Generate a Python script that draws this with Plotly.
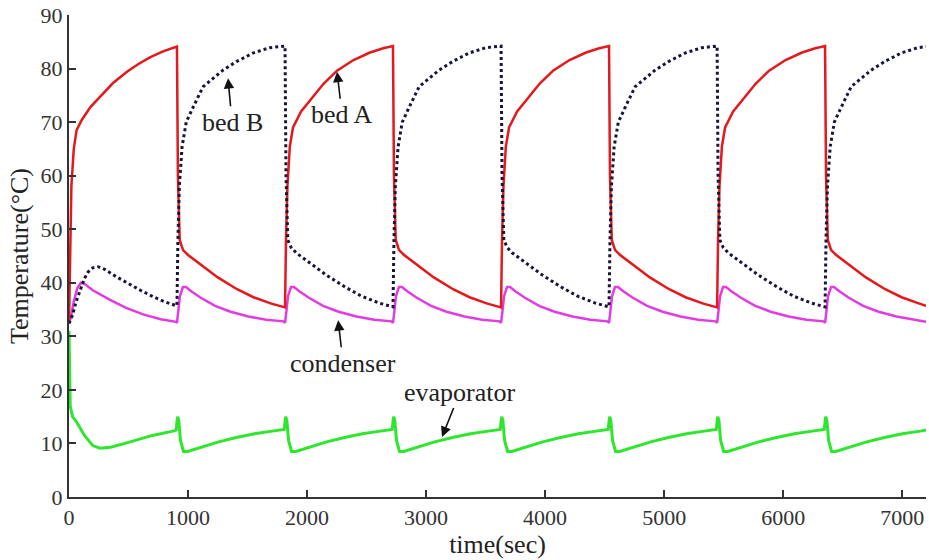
import plotly.graph_objects as go

# ---- data (time in s, temperature in °C) ----
bedA_t = [0, 8, 20, 40, 64, 107, 180, 260, 370, 487, 580, 680, 790, 907,
          915, 930, 958, 1000, 1126, 1250, 1412, 1550, 1700, 1815,
          1823, 1835, 1855, 1882, 1950, 2025, 2140, 2252, 2390, 2529, 2640, 2722,
          2730, 2745, 2773, 2815, 2941, 3065, 3227, 3365, 3515, 3630,
          3638, 3650, 3670, 3697, 3765, 3840, 3955, 4067, 4205, 4344, 4455, 4537,
          4545, 4560, 4588, 4630, 4756, 4880, 5042, 5180, 5330, 5445,
          5453, 5465, 5485, 5512, 5580, 5655, 5770, 5882, 6020, 6159, 6270, 6352,
          6360, 6375, 6403, 6445, 6571, 6695, 6857, 6995, 7145, 7200]
bedA_v = [32.5, 45, 58, 65, 68.5, 70.4, 72.8, 74.7, 77.3, 79.4, 80.8, 82.1, 83.2, 84.1,
          60, 48, 46.1, 45.2, 43, 41, 38.8, 37.3, 36.1, 35.4,
          48, 58, 65.4, 69, 72, 74.1, 77.2, 79.6, 81.6, 83, 83.8, 84.2,
          60, 48, 46.1, 45.2, 43, 41, 38.8, 37.3, 36.1, 35.4,
          48, 58, 65.4, 69, 72, 74.1, 77.2, 79.6, 81.6, 83, 83.8, 84.2,
          60, 48, 46.1, 45.2, 43, 41, 38.8, 37.3, 36.1, 35.4,
          48, 58, 65.4, 69, 72, 74.1, 77.2, 79.6, 81.6, 83, 83.8, 84.2,
          60, 48, 46.1, 45.2, 43, 41, 38.8, 37.3, 36.1, 35.7]

bedB_t = [0, 30, 60, 92, 130, 160, 200, 244, 300, 400, 487, 600, 706, 800, 890, 907,
          915, 927, 950, 985, 1037, 1126, 1294, 1407, 1546, 1687, 1815,
          1823, 1838, 1866, 1908, 2034, 2158, 2320, 2458, 2608, 2722,
          2730, 2742, 2765, 2800, 2852, 2941, 3109, 3222, 3361, 3502, 3630,
          3638, 3653, 3681, 3723, 3849, 3973, 4135, 4273, 4423, 4537,
          4545, 4557, 4580, 4615, 4667, 4756, 4924, 5037, 5176, 5317, 5445,
          5453, 5468, 5496, 5538, 5664, 5788, 5950, 6088, 6238, 6352,
          6360, 6372, 6395, 6430, 6482, 6571, 6739, 6852, 6991, 7132, 7200]
bedB_v = [32.4, 34, 36.5, 38.6, 40.8, 42, 42.8, 43, 42.5, 41.1, 40, 38.6, 37.4, 36.5, 35.8, 35.7,
          48, 58, 65.4, 70, 72.5, 76.6, 79.7, 81.3, 82.9, 83.9, 84.2,
          60, 48, 46.6, 45.6, 43.6, 41.5, 39.2, 37.5, 36.2, 35.5,
          48, 58, 65.4, 70, 72.5, 76.6, 79.7, 81.3, 82.9, 83.9, 84.2,
          60, 48, 46.6, 45.6, 43.6, 41.5, 39.2, 37.5, 36.2, 35.5,
          48, 58, 65.4, 70, 72.5, 76.6, 79.7, 81.3, 82.9, 83.9, 84.2,
          60, 48, 46.6, 45.6, 43.6, 41.5, 39.2, 37.5, 36.2, 35.5,
          48, 58, 65.4, 70, 72.5, 76.6, 79.7, 81.3, 82.9, 83.9, 84.1]

cond_t = [0, 15, 40, 70, 100, 130, 200, 345, 480, 622, 770, 900, 907,
          915, 932, 957, 982, 1027, 1107, 1227, 1357, 1507, 1657, 1802, 1815,
          1823, 1840, 1865, 1890, 1935, 2015, 2135, 2265, 2415, 2565, 2710, 2722,
          2730, 2747, 2772, 2797, 2842, 2922, 3042, 3172, 3322, 3472, 3617, 3630,
          3638, 3655, 3680, 3705, 3750, 3830, 3950, 4080, 4230, 4380, 4525, 4537,
          4545, 4562, 4587, 4612, 4657, 4737, 4857, 4987, 5137, 5287, 5432, 5445,
          5453, 5470, 5495, 5520, 5565, 5645, 5765, 5895, 6045, 6195, 6340, 6352,
          6360, 6377, 6402, 6427, 6472, 6552, 6672, 6802, 6952, 7102, 7200]
cond_v = [32.5, 33.5, 36.5, 39, 40, 39.8, 38.6, 36.8, 35.3, 34.1, 33.2, 32.7, 32.5,
          34, 37.5, 39.2, 39.2, 38.4, 37.2, 35.7, 34.6, 33.7, 33.1, 32.8, 32.5,
          34, 37.5, 39.2, 39.2, 38.4, 37.2, 35.7, 34.6, 33.7, 33.1, 32.8, 32.5,
          34, 37.5, 39.2, 39.2, 38.4, 37.2, 35.7, 34.6, 33.7, 33.1, 32.8, 32.5,
          34, 37.5, 39.2, 39.2, 38.4, 37.2, 35.7, 34.6, 33.7, 33.1, 32.8, 32.5,
          34, 37.5, 39.2, 39.2, 38.4, 37.2, 35.7, 34.6, 33.7, 33.1, 32.8, 32.5,
          34, 37.5, 39.2, 39.2, 38.4, 37.2, 35.7, 34.6, 33.7, 33.1, 32.8, 32.5,
          34, 37.5, 39.2, 39.2, 38.4, 37.2, 35.7, 34.6, 33.7, 33.1, 32.7]

evap_t = [0, 10, 30, 64, 130, 200, 260, 350, 500, 700, 874, 900,
          912, 922, 937, 962, 997, 1107, 1257, 1407, 1557, 1707, 1808,
          1820, 1830, 1845, 1870, 1905, 2015, 2165, 2315, 2465, 2615, 2715,
          2727, 2737, 2752, 2777, 2812, 2922, 3072, 3222, 3372, 3522, 3623,
          3635, 3645, 3660, 3685, 3720, 3830, 3980, 4130, 4280, 4430, 4530,
          4542, 4552, 4567, 4592, 4627, 4737, 4887, 5037, 5187, 5337, 5438,
          5450, 5460, 5475, 5500, 5535, 5645, 5795, 5945, 6095, 6245, 6345,
          6357, 6367, 6382, 6407, 6442, 6552, 6702, 6852, 7002, 7152, 7200]
evap_v = [31, 17, 15, 14, 11.5, 9.6, 9.1, 9.3, 10.2, 11.5, 12.3, 12.5,
          15, 14.3, 10.5, 8.5, 8.5, 9.3, 10.3, 11.1, 11.8, 12.3, 12.6,
          15, 14.3, 10.5, 8.5, 8.5, 9.3, 10.3, 11.1, 11.8, 12.3, 12.6,
          15, 14.3, 10.5, 8.5, 8.5, 9.3, 10.3, 11.1, 11.8, 12.3, 12.6,
          15, 14.3, 10.5, 8.5, 8.5, 9.3, 10.3, 11.1, 11.8, 12.3, 12.6,
          15, 14.3, 10.5, 8.5, 8.5, 9.3, 10.3, 11.1, 11.8, 12.3, 12.6,
          15, 14.3, 10.5, 8.5, 8.5, 9.3, 10.3, 11.1, 11.8, 12.3, 12.6,
          15, 14.3, 10.5, 8.5, 8.5, 9.3, 10.3, 11.1, 11.8, 12.3, 12.5]

x_ticks = [0, 1000, 2000, 3000, 4000, 5000, 6000, 7000]
y_ticks = [0, 10, 20, 30, 40, 50, 60, 70, 80, 90]

# annotation labels: (text, head x, head y, offset x px, offset y px)
labels = [("bed B", 1336, 78.2, 4, 44),
          ("bed A", 2252, 79.4, 5, 43),
          ("condenser", 2261, 33.0, 5, 43),
          ("evaporator", 3134, 11.2, 18, -45)]

FONT = "Liberation Serif"

fig = go.Figure()
fig.add_trace(go.Scatter(x=evap_t, y=evap_v, mode="lines",
                         line=dict(color="#2ee62e", width=3), name="evaporator"))
fig.add_trace(go.Scatter(x=cond_t, y=cond_v, mode="lines",
                         line=dict(color="#e03ce0", width=2.5), name="condenser"))
fig.add_trace(go.Scatter(x=bedA_t, y=bedA_v, mode="lines",
                         line=dict(color="#e3191c", width=2.5), name="bed A"))
fig.add_trace(go.Scatter(x=bedB_t, y=bedB_v, mode="lines",
                         line=dict(color="#15163a", width=3, dash="dot"), name="bed B"))

for text, hx, hy, ox, oy in labels:
    fig.add_annotation(x=hx, y=hy, xref="x", yref="y", text=text,
                       showarrow=True, ax=ox, ay=oy, arrowhead=2, arrowsize=1.3,
                       arrowwidth=1.6, arrowcolor="#111", standoff=0,
                       font=dict(family=FONT, size=26, color="#222"))

fig.update_layout(
    width=929, height=560,
    margin=dict(l=69, r=3, t=15, b=63),
    paper_bgcolor="white", plot_bgcolor="white",
    showlegend=False, hovermode=False,
    font=dict(family=FONT, color="#333"),
)
fig.update_xaxes(range=[0, 7200], tickvals=x_ticks, ticks="inside", ticklen=7,
                 tickwidth=1.5, tickcolor="#333", showline=True, linecolor="#333",
                 linewidth=2, showgrid=False, zeroline=False, automargin=False,
                 ticklabeloverflow="allow",
                 tickfont=dict(family=FONT, size=22, color="#333"),
                 title=dict(text="time(sec)", font=dict(family=FONT, size=26, color="#222"),
                            standoff=0))
fig.update_yaxes(range=[0, 90], tickvals=y_ticks, ticks="inside", ticklen=7,
                 tickwidth=1.5, tickcolor="#333", showline=True, linecolor="#333",
                 linewidth=2, showgrid=False, zeroline=False, automargin=False,
                 ticklabeloverflow="allow",
                 tickfont=dict(family=FONT, size=22, color="#333"),
                 title=dict(text="Temperature(°C)", font=dict(family=FONT, size=26, color="#222"),
                            standoff=4))

# remove the page's default 8px body margin so the figure fills the window
fig.write_html("out.html", config={"displayModeBar": False},
               post_script="document.body.style.margin='0';document.body.style.overflow='hidden';")
